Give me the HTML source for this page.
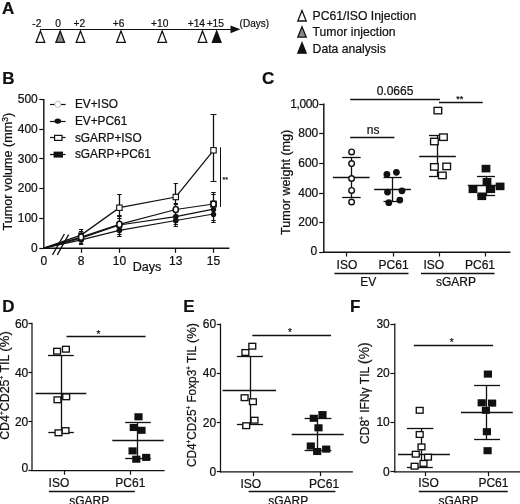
<!DOCTYPE html>
<html><head><meta charset="utf-8"><title>Figure</title>
<style>
html,body{margin:0;padding:0;background:#fff;}
body{width:520px;height:504px;overflow:hidden;}
svg{display:block;will-change:transform;font-family:"Liberation Sans",sans-serif;fill:#111;}
text{stroke:#111;stroke-width:0.22px;}
</style></head><body>
<svg width="520" height="504" viewBox="0 0 520 504">
<rect x="0" y="0" width="520" height="504" fill="#fff"/>
<text x="2.0" y="13.5" font-size="17" text-anchor="start" font-weight="bold" >A</text>
<line x1="40" y1="29.5" x2="232" y2="29.5" stroke="#111" stroke-width="1.2" />
<polygon points="240.4,29.3 230.5,25.4 230.5,33.2" fill="#111"/>
<polygon points="40.4,31.0 36.1,42.3 44.699999999999996,42.3" fill="#fff" stroke="#111" stroke-width="1.3" stroke-linejoin="miter"/>
<polygon points="60.2,31.0 55.900000000000006,42.3 64.5,42.3" fill="#8a8a8a" stroke="#111" stroke-width="1.3" stroke-linejoin="miter"/>
<polygon points="80.5,31.0 76.2,42.3 84.8,42.3" fill="#fff" stroke="#111" stroke-width="1.3" stroke-linejoin="miter"/>
<polygon points="121,31.0 116.7,42.3 125.3,42.3" fill="#fff" stroke="#111" stroke-width="1.3" stroke-linejoin="miter"/>
<polygon points="162.2,31.0 157.89999999999998,42.3 166.5,42.3" fill="#fff" stroke="#111" stroke-width="1.3" stroke-linejoin="miter"/>
<polygon points="202.5,31.0 198.2,42.3 206.8,42.3" fill="#fff" stroke="#111" stroke-width="1.3" stroke-linejoin="miter"/>
<polygon points="216.7,31.0 212.39999999999998,42.3 221.0,42.3" fill="#111" stroke="#111" stroke-width="1.3" stroke-linejoin="miter"/>
<text x="36.9" y="26.8" font-size="10.2" text-anchor="middle" font-weight="normal" >-2</text>
<text x="58.2" y="26.8" font-size="10.2" text-anchor="middle" font-weight="normal" >0</text>
<text x="79.4" y="26.8" font-size="10.2" text-anchor="middle" font-weight="normal" >+2</text>
<text x="118.6" y="26.8" font-size="10.2" text-anchor="middle" font-weight="normal" >+6</text>
<text x="159.7" y="26.8" font-size="10.2" text-anchor="middle" font-weight="normal" >+10</text>
<text x="196.4" y="26.8" font-size="10.2" text-anchor="middle" font-weight="normal" >+14</text>
<text x="215.3" y="26.8" font-size="10.2" text-anchor="middle" font-weight="normal" >+15</text>
<text x="239.6" y="26.8" font-size="10.0" text-anchor="start" font-weight="normal" >(Days)</text>
<polygon points="302,10.6 297.8,21.0 306.2,21.0" fill="#fff" stroke="#111" stroke-width="1.3" stroke-linejoin="miter"/>
<text x="312.6" y="20.3" font-size="12.2" text-anchor="start" font-weight="normal" >PC61/ISO Injection</text>
<polygon points="302,26.700000000000003 297.8,37.1 306.2,37.1" fill="#8a8a8a" stroke="#111" stroke-width="1.3" stroke-linejoin="miter"/>
<text x="312.6" y="36.400000000000006" font-size="12.2" text-anchor="start" font-weight="normal" >Tumor injection</text>
<polygon points="302,42.800000000000004 297.8,53.2 306.2,53.2" fill="#111" stroke="#111" stroke-width="1.3" stroke-linejoin="miter"/>
<text x="312.6" y="52.5" font-size="12.2" text-anchor="start" font-weight="normal" >Data analysis</text>
<text x="2.3" y="83.5" font-size="17" text-anchor="start" font-weight="bold" >B</text>
<line x1="43.8" y1="98.9" x2="43.8" y2="248.89999999999998" stroke="#111" stroke-width="1.4" />
<line x1="43.099999999999994" y1="248.2" x2="229.4" y2="248.2" stroke="#111" stroke-width="1.4" />
<line x1="39.3" y1="248.5" x2="43.8" y2="248.5" stroke="#111" stroke-width="1.2" />
<text x="37.8" y="252.0" font-size="12" text-anchor="end" font-weight="normal" >0</text>
<line x1="39.3" y1="218.5" x2="43.8" y2="218.5" stroke="#111" stroke-width="1.2" />
<text x="37.8" y="222.24" font-size="12" text-anchor="end" font-weight="normal" >100</text>
<line x1="39.3" y1="188.5" x2="43.8" y2="188.5" stroke="#111" stroke-width="1.2" />
<text x="37.8" y="192.48000000000002" font-size="12" text-anchor="end" font-weight="normal" >200</text>
<line x1="39.3" y1="158.5" x2="43.8" y2="158.5" stroke="#111" stroke-width="1.2" />
<text x="37.8" y="162.72000000000003" font-size="12" text-anchor="end" font-weight="normal" >300</text>
<line x1="39.3" y1="129.5" x2="43.8" y2="129.5" stroke="#111" stroke-width="1.2" />
<text x="37.8" y="132.96" font-size="12" text-anchor="end" font-weight="normal" >400</text>
<line x1="39.3" y1="99.5" x2="43.8" y2="99.5" stroke="#111" stroke-width="1.2" />
<text x="37.8" y="103.2" font-size="12" text-anchor="end" font-weight="normal" >500</text>
<text x="43.8" y="265.0" font-size="12" text-anchor="middle" font-weight="normal" >0</text>
<line x1="81.5" y1="248.2" x2="81.5" y2="252.79999999999998" stroke="#111" stroke-width="1.2" />
<text x="81.1" y="265.0" font-size="12" text-anchor="middle" font-weight="normal" >8</text>
<line x1="119.5" y1="248.2" x2="119.5" y2="252.79999999999998" stroke="#111" stroke-width="1.2" />
<text x="119.4" y="265.0" font-size="12" text-anchor="middle" font-weight="normal" >10</text>
<line x1="175.5" y1="248.2" x2="175.5" y2="252.79999999999998" stroke="#111" stroke-width="1.2" />
<text x="175.8" y="265.0" font-size="12" text-anchor="middle" font-weight="normal" >13</text>
<line x1="213.5" y1="248.2" x2="213.5" y2="252.79999999999998" stroke="#111" stroke-width="1.2" />
<text x="213.5" y="265.0" font-size="12" text-anchor="middle" font-weight="normal" >15</text>
<text x="147" y="271.3" font-size="12.6" text-anchor="middle" font-weight="normal" >Days</text>
<text transform="translate(12.4,171.7) rotate(-90) scale(1.0,1)" font-size="12.6" text-anchor="middle">Tumor volume (mm<tspan font-size="8.4" dy="-4.2">3</tspan><tspan dy="4.2">)</tspan></text>
<polyline fill="none" stroke="#111" stroke-width="1.25" points="43.8,248.2 81.1,239.9 119.4,230.3 175.8,220.5 213.5,214.0"/>
<polyline fill="none" stroke="#111" stroke-width="1.25" points="43.8,248.2 81.1,238.1 119.4,225.0 175.8,216.7 213.5,209.2"/>
<polyline fill="none" stroke="#111" stroke-width="1.25" points="43.8,248.2 81.1,235.1 119.4,207.7 175.8,197.0 213.5,150.3"/>
<polyline fill="none" stroke="#111" stroke-width="1.25" points="43.8,248.2 81.1,237.2 119.4,224.4 175.8,209.5 213.5,204.0"/>
<line x1="52.5" y1="254.9" x2="64.4" y2="234.0" stroke="#111" stroke-width="1.3" />
<line x1="57.3" y1="254.9" x2="68.6" y2="234.6" stroke="#111" stroke-width="1.3" />
<line x1="81.5" y1="229.9" x2="81.5" y2="244.5" stroke="#111" stroke-width="1.3" />
<line x1="79.0" y1="229.5" x2="83.19999999999999" y2="229.5" stroke="#111" stroke-width="1.0" />
<line x1="79.0" y1="231.5" x2="83.19999999999999" y2="231.5" stroke="#111" stroke-width="1.0" />
<line x1="79.0" y1="243.5" x2="83.19999999999999" y2="243.5" stroke="#111" stroke-width="1.0" />
<line x1="79.0" y1="244.5" x2="83.19999999999999" y2="244.5" stroke="#111" stroke-width="1.0" />
<line x1="119.5" y1="194.5" x2="119.5" y2="236.1" stroke="#111" stroke-width="1.3" />
<line x1="117.15" y1="194.5" x2="121.65" y2="194.5" stroke="#111" stroke-width="1.0" />
<line x1="117.15" y1="215.5" x2="121.65" y2="215.5" stroke="#111" stroke-width="1.0" />
<line x1="117.15" y1="216.5" x2="121.65" y2="216.5" stroke="#111" stroke-width="1.0" />
<line x1="117.15" y1="218.5" x2="121.65" y2="218.5" stroke="#111" stroke-width="1.0" />
<line x1="117.15" y1="234.5" x2="121.65" y2="234.5" stroke="#111" stroke-width="1.0" />
<line x1="117.15" y1="236.5" x2="121.65" y2="236.5" stroke="#111" stroke-width="1.0" />
<line x1="175.5" y1="183.0" x2="175.5" y2="226.1" stroke="#111" stroke-width="1.3" />
<line x1="173.65" y1="183.5" x2="177.95000000000002" y2="183.5" stroke="#111" stroke-width="1.0" />
<line x1="173.65" y1="203.5" x2="177.95000000000002" y2="203.5" stroke="#111" stroke-width="1.0" />
<line x1="173.65" y1="204.5" x2="177.95000000000002" y2="204.5" stroke="#111" stroke-width="1.0" />
<line x1="173.65" y1="224.5" x2="177.95000000000002" y2="224.5" stroke="#111" stroke-width="1.0" />
<line x1="173.65" y1="226.5" x2="177.95000000000002" y2="226.5" stroke="#111" stroke-width="1.0" />
<line x1="213.5" y1="114.3" x2="213.5" y2="181.0" stroke="#111" stroke-width="1.3" />
<line x1="210.5" y1="114.5" x2="216.5" y2="114.5" stroke="#111" stroke-width="1.0" />
<line x1="210.5" y1="181.5" x2="216.5" y2="181.5" stroke="#111" stroke-width="1.0" />
<line x1="213.5" y1="192.9" x2="213.5" y2="222.5" stroke="#111" stroke-width="1.3" />
<line x1="211.25" y1="192.5" x2="215.75" y2="192.5" stroke="#111" stroke-width="1.0" />
<line x1="211.25" y1="194.5" x2="215.75" y2="194.5" stroke="#111" stroke-width="1.0" />
<line x1="211.25" y1="220.5" x2="215.75" y2="220.5" stroke="#111" stroke-width="1.0" />
<line x1="211.25" y1="222.5" x2="215.75" y2="222.5" stroke="#111" stroke-width="1.0" />
<rect x="210.20" y="200.61" width="6.60" height="7.00" fill="#111"/>
<circle cx="81.1" cy="239.8672" r="2.85" fill="#111"/>
<circle cx="119.4" cy="230.344" r="2.85" fill="#111"/>
<circle cx="175.8" cy="220.5232" r="2.85" fill="#111"/>
<circle cx="213.5" cy="214.376" r="2.70" fill="#111"/>
<rect x="78.20" y="234.98" width="5.80" height="6.20" fill="#111"/>
<rect x="116.50" y="221.89" width="5.80" height="6.20" fill="#111"/>
<circle cx="175.8" cy="216.65439999999998" r="2.80" fill="#111"/>
<circle cx="213.5" cy="209.6144" r="2.70" fill="#111"/>
<rect x="78.30" y="232.41" width="5.60" height="6.00" fill="#111"/>
<rect x="116.70" y="205.03" width="5.40" height="5.40" fill="#fff" stroke="#111" stroke-width="1.1"/>
<rect x="173.10" y="194.31" width="5.40" height="5.40" fill="#fff" stroke="#111" stroke-width="1.1"/>
<rect x="210.80" y="147.59" width="5.40" height="5.40" fill="#fff" stroke="#111" stroke-width="1.1"/>
<ellipse cx="81.1" cy="237.1888" rx="2.6" ry="3.1" fill="#fff" stroke="#111" stroke-width="1.5"/>
<ellipse cx="119.4" cy="224.392" rx="2.6" ry="3.1" fill="#fff" stroke="#111" stroke-width="1.5"/>
<ellipse cx="175.8" cy="209.512" rx="2.6" ry="3.1" fill="#fff" stroke="#111" stroke-width="1.5"/>
<ellipse cx="213.5" cy="204.00639999999999" rx="2.6" ry="3.1" fill="#fff" stroke="#111" stroke-width="1.5"/>
<line x1="220.5" y1="147.2" x2="220.5" y2="206.9" stroke="#111" stroke-width="1.05" />
<text x="222.6" y="181.6" font-size="7" text-anchor="start" font-weight="normal" >**</text>
<line x1="50" y1="104.5" x2="65.6" y2="104.5" stroke="#111" stroke-width="1.2" />
<circle cx="57.8" cy="104.3" r="3.0" fill="#fff" stroke="#b5b5b5" stroke-width="0.9"/>
<text x="74.9" y="107.89999999999999" font-size="11.85" text-anchor="start" font-weight="normal" >EV+ISO</text>
<line x1="50" y1="121.5" x2="65.6" y2="121.5" stroke="#111" stroke-width="1.2" />
<ellipse cx="57.8" cy="121.1" rx="3.3" ry="2.7" fill="#111"/>
<text x="74.9" y="124.69999999999999" font-size="11.85" text-anchor="start" font-weight="normal" >EV+PC61</text>
<line x1="50" y1="137.5" x2="65.6" y2="137.5" stroke="#111" stroke-width="1.2" />
<rect x="54.60" y="135.40" width="7.40" height="5.00" fill="#fff" stroke="#111" stroke-width="1.2"/>
<text x="74.9" y="141.5" font-size="11.85" text-anchor="start" font-weight="normal" >sGARP+ISO</text>
<line x1="50" y1="154.5" x2="65.6" y2="154.5" stroke="#111" stroke-width="1.2" />
<rect x="53.60" y="151.60" width="9.40" height="6.00" fill="#111"/>
<text x="74.9" y="158.2" font-size="11.85" text-anchor="start" font-weight="normal" >sGARP+PC61</text>
<text x="262.1" y="84.2" font-size="17" text-anchor="start" font-weight="bold" >C</text>
<line x1="323.8" y1="103.6" x2="323.8" y2="253.0" stroke="#111" stroke-width="1.45" />
<line x1="323.1" y1="252.3" x2="510.4" y2="252.3" stroke="#111" stroke-width="1.45" />
<line x1="319.2" y1="252.5" x2="323.8" y2="252.5" stroke="#111" stroke-width="1.2" />
<text x="317.3" y="254.60000000000002" font-size="12" text-anchor="end" font-weight="normal" >0</text>
<line x1="319.2" y1="222.5" x2="323.8" y2="222.5" stroke="#111" stroke-width="1.2" />
<text x="318.3" y="226.20000000000002" font-size="12" text-anchor="end" font-weight="normal" >200</text>
<line x1="319.2" y1="193.5" x2="323.8" y2="193.5" stroke="#111" stroke-width="1.2" />
<text x="318.3" y="196.60000000000002" font-size="12" text-anchor="end" font-weight="normal" >400</text>
<line x1="319.2" y1="163.5" x2="323.8" y2="163.5" stroke="#111" stroke-width="1.2" />
<text x="318.3" y="167.0" font-size="12" text-anchor="end" font-weight="normal" >600</text>
<line x1="319.2" y1="133.5" x2="323.8" y2="133.5" stroke="#111" stroke-width="1.2" />
<text x="318.3" y="137.4" font-size="12" text-anchor="end" font-weight="normal" >800</text>
<line x1="319.2" y1="104.5" x2="323.8" y2="104.5" stroke="#111" stroke-width="1.2" />
<text x="318.3" y="107.80000000000001" font-size="12" text-anchor="end" font-weight="normal" letter-spacing="-0.4">1,000</text>
<line x1="346.5" y1="252.3" x2="346.5" y2="256.5" stroke="#111" stroke-width="1.2" />
<line x1="393.5" y1="252.3" x2="393.5" y2="256.5" stroke="#111" stroke-width="1.2" />
<line x1="439.5" y1="252.3" x2="439.5" y2="256.5" stroke="#111" stroke-width="1.2" />
<line x1="485.5" y1="252.3" x2="485.5" y2="256.5" stroke="#111" stroke-width="1.2" />
<text x="346.9" y="268.8" font-size="12" text-anchor="middle" font-weight="normal" >ISO</text>
<text x="393.6" y="268.8" font-size="12" text-anchor="middle" font-weight="normal" >PC61</text>
<text x="433.8" y="268.8" font-size="12" text-anchor="middle" font-weight="normal" >ISO</text>
<text x="480.0" y="268.8" font-size="12" text-anchor="middle" font-weight="normal" >PC61</text>
<line x1="334.4" y1="273.5" x2="408.5" y2="273.5" stroke="#111" stroke-width="1.3" />
<line x1="421.0" y1="273.5" x2="494.6" y2="273.5" stroke="#111" stroke-width="1.3" />
<text x="368.2" y="286.1" font-size="12" text-anchor="middle" font-weight="normal" >EV</text>
<text x="455.9" y="286.3" font-size="12" text-anchor="middle" font-weight="normal" >sGARP</text>
<text transform="translate(289.9,182.3) rotate(-90) scale(1.0,1)" font-size="12.6" text-anchor="middle">Tumor weight (mg)</text>
<line x1="350.2" y1="99.5" x2="439.9" y2="99.5" stroke="#111" stroke-width="1.3" />
<text x="395" y="95.2" font-size="12" text-anchor="middle" font-weight="normal" >0.0665</text>
<line x1="439" y1="102.5" x2="482.7" y2="102.5" stroke="#111" stroke-width="1.3" />
<text x="459.8" y="102.2" font-size="9" text-anchor="middle" font-weight="normal" stroke="#111" stroke-width="0.3">**</text>
<line x1="350.2" y1="137.5" x2="394.4" y2="137.5" stroke="#111" stroke-width="1.3" />
<text x="373.2" y="133.7" font-size="12" text-anchor="middle" font-weight="normal" >ns</text>
<line x1="351.5" y1="157" x2="351.5" y2="197.3" stroke="#111" stroke-width="1.3" />
<line x1="342.2" y1="157.5" x2="360.7" y2="157.5" stroke="#111" stroke-width="1.3" />
<line x1="342.2" y1="197.5" x2="360.7" y2="197.5" stroke="#111" stroke-width="1.3" />
<line x1="332.9" y1="177.5" x2="369.6" y2="177.5" stroke="#111" stroke-width="1.3" />
<circle cx="351.6" cy="151.9" r="2.80" fill="#fff" stroke="#111" stroke-width="1.4"/>
<circle cx="351.6" cy="163.6" r="2.80" fill="#fff" stroke="#111" stroke-width="1.4"/>
<circle cx="351.6" cy="178.5" r="2.80" fill="#fff" stroke="#111" stroke-width="1.4"/>
<circle cx="351.6" cy="190.4" r="2.80" fill="#fff" stroke="#111" stroke-width="1.4"/>
<circle cx="351.6" cy="202" r="2.80" fill="#fff" stroke="#111" stroke-width="1.4"/>
<line x1="392.5" y1="177.9" x2="392.5" y2="201.7" stroke="#111" stroke-width="1.3" />
<line x1="383.5" y1="177.5" x2="401.7" y2="177.5" stroke="#111" stroke-width="1.3" />
<line x1="383.5" y1="201.5" x2="401.7" y2="201.5" stroke="#111" stroke-width="1.3" />
<line x1="374.2" y1="189.5" x2="410.9" y2="189.5" stroke="#111" stroke-width="1.3" />
<circle cx="386.9" cy="174.3" r="3.40" fill="#111"/>
<circle cx="396.4" cy="172.3" r="3.40" fill="#111"/>
<circle cx="387.5" cy="192.1" r="3.40" fill="#111"/>
<circle cx="402" cy="190.8" r="3.40" fill="#111"/>
<circle cx="388.8" cy="202.7" r="3.40" fill="#111"/>
<circle cx="399.8" cy="200.1" r="3.40" fill="#111"/>
<line x1="437.5" y1="135" x2="437.5" y2="176" stroke="#111" stroke-width="1.3" />
<line x1="429" y1="135.5" x2="447" y2="135.5" stroke="#111" stroke-width="1.3" />
<line x1="429" y1="176.5" x2="447" y2="176.5" stroke="#111" stroke-width="1.3" />
<line x1="419.2" y1="156.5" x2="455.8" y2="156.5" stroke="#111" stroke-width="1.3" />
<rect x="434.07" y="107.37" width="7.65" height="6.45" fill="#fff" stroke="#111" stroke-width="1.35"/>
<rect x="439.57" y="133.97" width="7.65" height="6.45" fill="#fff" stroke="#111" stroke-width="1.35"/>
<rect x="430.57" y="138.28" width="7.65" height="6.45" fill="#fff" stroke="#111" stroke-width="1.35"/>
<rect x="430.57" y="163.68" width="7.65" height="6.45" fill="#fff" stroke="#111" stroke-width="1.35"/>
<rect x="442.88" y="163.18" width="7.65" height="6.45" fill="#fff" stroke="#111" stroke-width="1.35"/>
<rect x="438.48" y="172.18" width="7.65" height="6.45" fill="#fff" stroke="#111" stroke-width="1.35"/>
<line x1="486.5" y1="176" x2="486.5" y2="195.6" stroke="#111" stroke-width="1.3" />
<line x1="477" y1="176.5" x2="495" y2="176.5" stroke="#111" stroke-width="1.3" />
<line x1="477" y1="195.5" x2="495" y2="195.5" stroke="#111" stroke-width="1.3" />
<line x1="467.8" y1="185.5" x2="504" y2="185.5" stroke="#111" stroke-width="1.3" />
<rect x="481.60" y="164.80" width="8.80" height="7.60" fill="#111"/>
<rect x="482.60" y="178.00" width="8.80" height="7.60" fill="#111"/>
<rect x="468.60" y="185.50" width="8.80" height="7.60" fill="#111"/>
<rect x="486.30" y="185.50" width="8.80" height="7.60" fill="#111"/>
<rect x="495.70" y="182.60" width="8.80" height="7.60" fill="#111"/>
<rect x="477.40" y="192.50" width="8.80" height="7.60" fill="#111"/>
<text x="2.3" y="311.7" font-size="17" text-anchor="start" font-weight="bold" >D</text>
<line x1="32.0" y1="322.7" x2="32.0" y2="471.1" stroke="#111" stroke-width="1.25" />
<line x1="31.4" y1="470.5" x2="164.6" y2="470.5" stroke="#111" stroke-width="1.25" />
<line x1="28.4" y1="470.5" x2="32.0" y2="470.5" stroke="#111" stroke-width="1.2" />
<text x="28.3" y="472.1" font-size="12" text-anchor="end" font-weight="normal" >0</text>
<line x1="28.4" y1="421.5" x2="32.0" y2="421.5" stroke="#111" stroke-width="1.2" />
<text x="28.3" y="426.23333333333335" font-size="12" text-anchor="end" font-weight="normal" >20</text>
<line x1="28.4" y1="372.5" x2="32.0" y2="372.5" stroke="#111" stroke-width="1.2" />
<text x="28.3" y="377.1666666666667" font-size="12" text-anchor="end" font-weight="normal" >40</text>
<line x1="28.4" y1="323.5" x2="32.0" y2="323.5" stroke="#111" stroke-width="1.2" />
<text x="28.3" y="328.1" font-size="12" text-anchor="end" font-weight="normal" >60</text>
<line x1="64.5" y1="470.5" x2="64.5" y2="474.7" stroke="#111" stroke-width="1.2" />
<line x1="130.5" y1="470.5" x2="130.5" y2="474.7" stroke="#111" stroke-width="1.2" />
<text x="58.9" y="487.0" font-size="12" text-anchor="middle" font-weight="normal" >ISO</text>
<text x="130.3" y="487.0" font-size="12" text-anchor="middle" font-weight="normal" >PC61</text>
<line x1="48.9" y1="491.5" x2="134.8" y2="491.5" stroke="#111" stroke-width="1.3" />
<text x="89.2" y="504.8" font-size="12" text-anchor="middle" font-weight="normal" >sGARP</text>
<text transform="translate(8.6,385.5) rotate(-90) scale(1.0,1)" font-size="12.4" text-anchor="middle">CD4<tspan font-size="6.5" dy="-4.5">+</tspan><tspan dy="4.5">CD25</tspan><tspan font-size="6.5" dy="-4.5">+</tspan><tspan dy="4.5"> TIL </tspan><tspan font-size="13.2">(%)</tspan></text>
<line x1="66.5" y1="336.5" x2="145.6" y2="336.5" stroke="#111" stroke-width="1.3" />
<text x="98.5" y="337.6" font-size="10" text-anchor="middle" font-weight="normal" stroke="#111" stroke-width="0.3">*</text>
<line x1="61.5" y1="355.9" x2="61.5" y2="432.5" stroke="#111" stroke-width="1.3" />
<line x1="48" y1="355.5" x2="73.8" y2="355.5" stroke="#111" stroke-width="1.3" />
<line x1="48.3" y1="432.5" x2="73.8" y2="432.5" stroke="#111" stroke-width="1.3" />
<line x1="35.6" y1="393.5" x2="86.3" y2="393.5" stroke="#111" stroke-width="1.3" />
<rect x="53.67" y="348.32" width="6.85" height="5.75" fill="#fff" stroke="#111" stroke-width="1.35"/>
<rect x="62.48" y="346.32" width="6.85" height="5.75" fill="#fff" stroke="#111" stroke-width="1.35"/>
<rect x="62.77" y="393.93" width="6.85" height="5.75" fill="#fff" stroke="#111" stroke-width="1.35"/>
<rect x="54.07" y="396.93" width="6.85" height="5.75" fill="#fff" stroke="#111" stroke-width="1.35"/>
<rect x="62.07" y="427.73" width="6.85" height="5.75" fill="#fff" stroke="#111" stroke-width="1.35"/>
<rect x="55.07" y="429.93" width="6.85" height="5.75" fill="#fff" stroke="#111" stroke-width="1.35"/>
<line x1="137.5" y1="422.9" x2="137.5" y2="458.3" stroke="#111" stroke-width="1.3" />
<line x1="125.2" y1="422.5" x2="150.8" y2="422.5" stroke="#111" stroke-width="1.3" />
<line x1="125.2" y1="458.5" x2="150.8" y2="458.5" stroke="#111" stroke-width="1.3" />
<line x1="112.3" y1="440.5" x2="163.7" y2="440.5" stroke="#111" stroke-width="1.3" />
<rect x="134.40" y="413.25" width="8.20" height="7.10" fill="#111"/>
<rect x="129.70" y="423.95" width="8.20" height="7.10" fill="#111"/>
<rect x="137.40" y="426.75" width="8.20" height="7.10" fill="#111"/>
<rect x="128.50" y="447.35" width="8.20" height="7.10" fill="#111"/>
<rect x="132.20" y="455.65" width="8.20" height="7.10" fill="#111"/>
<rect x="142.10" y="453.85" width="8.20" height="7.10" fill="#111"/>
<text x="183.3" y="311.7" font-size="17" text-anchor="start" font-weight="bold" >E</text>
<line x1="220.5" y1="323.6" x2="220.5" y2="472.5" stroke="#111" stroke-width="1.25" />
<line x1="219.9" y1="471.9" x2="352.9" y2="471.9" stroke="#111" stroke-width="1.25" />
<line x1="216.8" y1="471.5" x2="220.5" y2="471.5" stroke="#111" stroke-width="1.2" />
<text x="216.1" y="475.79999999999995" font-size="12" text-anchor="end" font-weight="normal" >0</text>
<line x1="216.8" y1="422.5" x2="220.5" y2="422.5" stroke="#111" stroke-width="1.2" />
<text x="216.1" y="426.5666666666666" font-size="12" text-anchor="end" font-weight="normal" >20</text>
<line x1="216.8" y1="373.5" x2="220.5" y2="373.5" stroke="#111" stroke-width="1.2" />
<text x="216.1" y="377.33333333333326" font-size="12" text-anchor="end" font-weight="normal" >40</text>
<line x1="216.8" y1="324.5" x2="220.5" y2="324.5" stroke="#111" stroke-width="1.2" />
<text x="216.1" y="328.09999999999997" font-size="12" text-anchor="end" font-weight="normal" >60</text>
<line x1="253.5" y1="471.9" x2="253.5" y2="476.09999999999997" stroke="#111" stroke-width="1.2" />
<line x1="320.5" y1="471.9" x2="320.5" y2="476.09999999999997" stroke="#111" stroke-width="1.2" />
<text x="250.8" y="487.6" font-size="12" text-anchor="middle" font-weight="normal" >ISO</text>
<text x="324.1" y="487.6" font-size="12" text-anchor="middle" font-weight="normal" >PC61</text>
<line x1="248.6" y1="491.5" x2="335.4" y2="491.5" stroke="#111" stroke-width="1.3" />
<text x="288.3" y="504.6" font-size="12" text-anchor="middle" font-weight="normal" >sGARP</text>
<text transform="translate(195.5,395.0) rotate(-90) scale(0.955,1)" font-size="12.4" text-anchor="middle">CD4<tspan font-size="6.5" dy="-4.5">+</tspan><tspan dy="4.5">CD25</tspan><tspan font-size="6.5" dy="-4.5">+</tspan><tspan dy="4.5"> Foxp3</tspan><tspan font-size="6.5" dy="-4.5">+</tspan><tspan dy="4.5"> TIL </tspan><tspan font-size="13.6">(%)</tspan></text>
<line x1="252.3" y1="335.5" x2="331" y2="335.5" stroke="#111" stroke-width="1.3" />
<text x="290" y="336.2" font-size="10" text-anchor="middle" font-weight="normal" stroke="#111" stroke-width="0.3">*</text>
<line x1="250.5" y1="356.9" x2="250.5" y2="424.5" stroke="#111" stroke-width="1.3" />
<line x1="236.9" y1="356.5" x2="262.9" y2="356.5" stroke="#111" stroke-width="1.3" />
<line x1="236.9" y1="424.5" x2="263.1" y2="424.5" stroke="#111" stroke-width="1.3" />
<line x1="222.6" y1="390.5" x2="276" y2="390.5" stroke="#111" stroke-width="1.3" />
<rect x="248.88" y="343.32" width="6.85" height="5.75" fill="#fff" stroke="#111" stroke-width="1.35"/>
<rect x="241.98" y="349.62" width="6.85" height="5.75" fill="#fff" stroke="#111" stroke-width="1.35"/>
<rect x="241.18" y="394.82" width="6.85" height="5.75" fill="#fff" stroke="#111" stroke-width="1.35"/>
<rect x="249.48" y="398.82" width="6.85" height="5.75" fill="#fff" stroke="#111" stroke-width="1.35"/>
<rect x="251.08" y="417.32" width="6.85" height="5.75" fill="#fff" stroke="#111" stroke-width="1.35"/>
<rect x="242.78" y="422.82" width="6.85" height="5.75" fill="#fff" stroke="#111" stroke-width="1.35"/>
<line x1="317.5" y1="418.3" x2="317.5" y2="450.6" stroke="#111" stroke-width="1.3" />
<line x1="304.6" y1="418.5" x2="331.4" y2="418.5" stroke="#111" stroke-width="1.3" />
<line x1="304.6" y1="450.5" x2="331.4" y2="450.5" stroke="#111" stroke-width="1.3" />
<line x1="291.7" y1="434.5" x2="343.7" y2="434.5" stroke="#111" stroke-width="1.3" />
<rect x="318.40" y="411.05" width="8.20" height="7.10" fill="#111"/>
<rect x="309.70" y="414.75" width="8.20" height="7.10" fill="#111"/>
<rect x="314.40" y="424.25" width="8.20" height="7.10" fill="#111"/>
<rect x="306.70" y="442.45" width="8.20" height="7.10" fill="#111"/>
<rect x="322.10" y="445.55" width="8.20" height="7.10" fill="#111"/>
<rect x="313.10" y="447.95" width="8.20" height="7.10" fill="#111"/>
<text x="350.1" y="311.7" font-size="17" text-anchor="start" font-weight="bold" >F</text>
<line x1="394.8" y1="323.6" x2="394.8" y2="472.5" stroke="#111" stroke-width="1.25" />
<line x1="394.2" y1="471.9" x2="520" y2="471.9" stroke="#111" stroke-width="1.25" />
<line x1="390.40000000000003" y1="471.5" x2="394.8" y2="471.5" stroke="#111" stroke-width="1.2" />
<text x="389.8" y="475.5" font-size="12" text-anchor="end" font-weight="normal" >0</text>
<line x1="390.40000000000003" y1="422.5" x2="394.8" y2="422.5" stroke="#111" stroke-width="1.2" />
<text x="389.8" y="426.26666666666665" font-size="12" text-anchor="end" font-weight="normal" >10</text>
<line x1="390.40000000000003" y1="373.5" x2="394.8" y2="373.5" stroke="#111" stroke-width="1.2" />
<text x="389.8" y="377.0333333333333" font-size="12" text-anchor="end" font-weight="normal" >20</text>
<line x1="390.40000000000003" y1="324.5" x2="394.8" y2="324.5" stroke="#111" stroke-width="1.2" />
<text x="389.8" y="327.8" font-size="12" text-anchor="end" font-weight="normal" >30</text>
<line x1="425.5" y1="471.9" x2="425.5" y2="476.09999999999997" stroke="#111" stroke-width="1.2" />
<line x1="488.5" y1="471.9" x2="488.5" y2="476.09999999999997" stroke="#111" stroke-width="1.2" />
<text x="428.5" y="487.2" font-size="12" text-anchor="middle" font-weight="normal" >ISO</text>
<text x="493.4" y="487.2" font-size="12" text-anchor="middle" font-weight="normal" >PC61</text>
<line x1="418.8" y1="491.5" x2="507.7" y2="491.5" stroke="#111" stroke-width="1.3" />
<text x="458.5" y="505.0" font-size="12" text-anchor="middle" font-weight="normal" >sGARP</text>
<text transform="translate(368.5,393.2) rotate(-90) scale(1.0,1)" font-size="12.0" text-anchor="middle">CD8<tspan font-size="6.5" dy="-4.5">+</tspan><tspan dy="4.5"> IFNγ TIL </tspan><tspan font-size="13.8">(%)</tspan></text>
<line x1="413.8" y1="345.5" x2="493.1" y2="345.5" stroke="#111" stroke-width="1.3" />
<text x="451.7" y="345.6" font-size="10" text-anchor="middle" font-weight="normal" stroke="#111" stroke-width="0.3">*</text>
<line x1="421.5" y1="428.3" x2="421.5" y2="467.0" stroke="#111" stroke-width="1.3" />
<line x1="406.9" y1="428.5" x2="433.4" y2="428.5" stroke="#111" stroke-width="1.3" />
<line x1="406.9" y1="467.5" x2="432.8" y2="467.5" stroke="#111" stroke-width="1.3" />
<line x1="398" y1="454.5" x2="449.9" y2="454.5" stroke="#111" stroke-width="1.3" />
<rect x="416.27" y="407.43" width="6.85" height="5.75" fill="#fff" stroke="#111" stroke-width="1.35"/>
<rect x="416.27" y="431.62" width="6.85" height="5.75" fill="#fff" stroke="#111" stroke-width="1.35"/>
<rect x="418.07" y="444.02" width="6.85" height="5.75" fill="#fff" stroke="#111" stroke-width="1.35"/>
<rect x="412.38" y="451.32" width="6.85" height="5.75" fill="#fff" stroke="#111" stroke-width="1.35"/>
<rect x="424.57" y="454.32" width="6.85" height="5.75" fill="#fff" stroke="#111" stroke-width="1.35"/>
<rect x="420.07" y="460.52" width="6.85" height="5.75" fill="#fff" stroke="#111" stroke-width="1.35"/>
<rect x="411.18" y="463.32" width="6.85" height="5.75" fill="#fff" stroke="#111" stroke-width="1.35"/>
<line x1="486.5" y1="385.5" x2="486.5" y2="439.3" stroke="#111" stroke-width="1.3" />
<line x1="474.1" y1="385.5" x2="500" y2="385.5" stroke="#111" stroke-width="1.3" />
<line x1="474.1" y1="439.5" x2="500" y2="439.5" stroke="#111" stroke-width="1.3" />
<line x1="461" y1="412.5" x2="512.8" y2="412.5" stroke="#111" stroke-width="1.3" />
<rect x="483.80" y="370.55" width="8.20" height="7.10" fill="#111"/>
<rect x="477.60" y="399.25" width="8.20" height="7.10" fill="#111"/>
<rect x="488.00" y="399.55" width="8.20" height="7.10" fill="#111"/>
<rect x="481.80" y="406.75" width="8.20" height="7.10" fill="#111"/>
<rect x="482.80" y="428.15" width="8.20" height="7.10" fill="#111"/>
<rect x="483.50" y="447.15" width="8.20" height="7.10" fill="#111"/>
</svg>
</body></html>
